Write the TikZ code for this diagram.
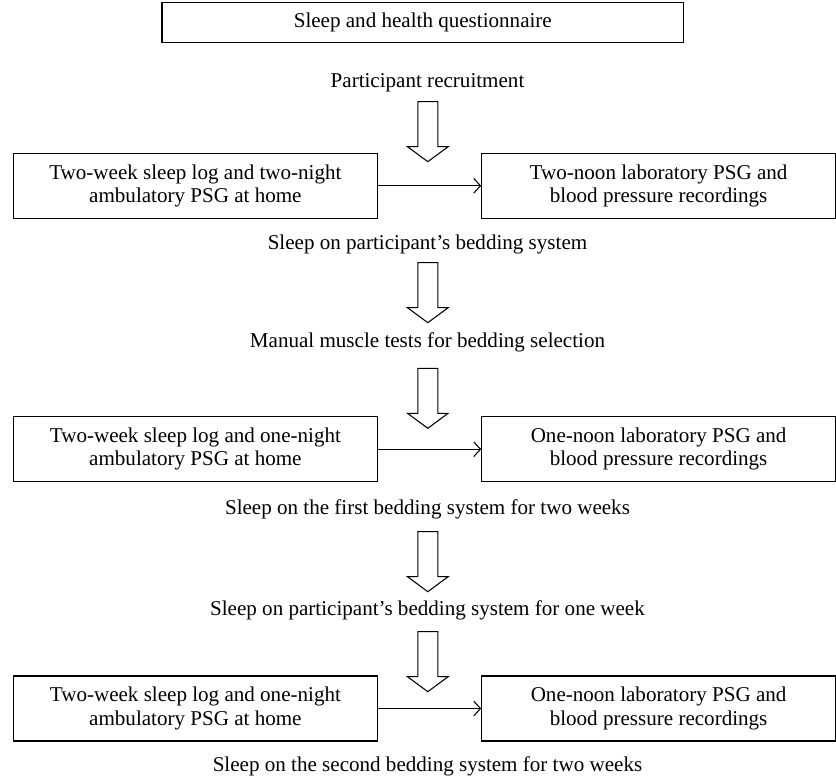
\documentclass[tikz,border=0pt]{standalone}
\usepackage{fontspec}
\setmainfont{Liberation Serif}
\usetikzlibrary{arrows.meta}
\begin{document}
\begin{tikzpicture}[x=0.75pt,y=-0.75pt,
  box/.style={draw, line width=0.8pt, inner sep=0pt, align=center, font=\fontsize{15.8}{17.5}\selectfont},
  lbl/.style={inner sep=0pt, font=\fontsize{15.8}{17.5}\selectfont},
  conn/.style={line width=0.8pt, -{Straight Barb[length=5pt,width=11pt,line width=0.8pt]}},
  barrow/.style={draw, line width=0.8pt, line join=miter}]
\useasboundingbox (0,0) rectangle (836,780);
% top box
\node[box, minimum width=521.6*0.75pt, minimum height=40*0.75pt] (q) at (422.8,22.7) {Sleep and health questionnaire};
% labels
\node[lbl] (l1) at (427.5,83) {Participant recruitment};
\node[lbl] (l2) at (427.5,244) {Sleep on participant’s bedding system};
\node[lbl] (l3) at (427.5,342.7) {Manual muscle tests for bedding selection};
\node[lbl] (l4) at (427.5,509.3) {Sleep on the first bedding system for two weeks};
\node[lbl] (l5) at (427.5,610) {Sleep on participant’s bedding system for one week};
\node[lbl] (l6) at (427.5,766) {Sleep on the second bedding system for two weeks};
% rows of boxes
\foreach \n/\yc/\lt/\rt in {
  1/185.8/{Two-week sleep log and two-night\\ambulatory PSG at home}/{Two-noon laboratory PSG and\\blood pressure recordings},
  2/449.2/{Two-week sleep log and one-night\\ambulatory PSG at home}/{One-noon laboratory PSG and\\blood pressure recordings},
  3/708.5/{Two-week sleep log and one-night\\ambulatory PSG at home}/{One-noon laboratory PSG and\\blood pressure recordings}}{
  \node[box, minimum width=364.2*0.75pt, minimum height=65*0.75pt] (L\n) at (195.4,\yc) {\lt};
  \node[box, minimum width=353.8*0.75pt, minimum height=65*0.75pt] (R\n) at (658.6,\yc) {\rt};
  \draw[conn] (L\n.east) -- (R\n.west);
}
% block arrows
\foreach \t in {101.7,262.7,368.3,531.7,631.7}{
  \coordinate (A) at (427.8,\t);
  \draw[barrow] (A) ++(-10,0) -- ++(0,45) -- ++(-10.3,0) -- ++(20.3,15) -- ++(20.3,-15) -- ++(-10.3,0) -- ++(0,-45) -- cycle;
}
\end{tikzpicture}
\end{document}
